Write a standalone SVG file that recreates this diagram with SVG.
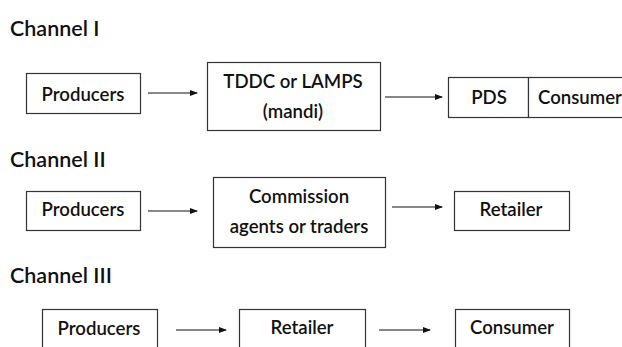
<svg xmlns="http://www.w3.org/2000/svg" width="622" height="347" viewBox="0 0 622 347">
<style>
.t{font-family:Lato,"Liberation Sans",sans-serif;font-size:21.5px;fill:#111;font-weight:600;}
.b{font-family:Lato,"Liberation Sans",sans-serif;font-size:18.6px;fill:#111;font-weight:600;text-anchor:middle;}
.box{fill:#fff;stroke:#333;stroke-width:1.2;}
.ar{stroke:#111;stroke-width:1.2;fill:none;marker-end:url(#ah);}
</style>
<defs>
<marker id="ah" markerWidth="8" markerHeight="6" refX="7" refY="3" orient="auto" markerUnits="userSpaceOnUse">
<path d="M0,0 L8,3 L0,6 Z" fill="#111"/>
</marker>
</defs>
<rect width="622" height="347" fill="#fff"/>
<text class="t" x="10" y="36">Channel I</text>
<text class="t" x="10" y="167">Channel II</text>
<text class="t" x="10" y="283">Channel III</text>

<g id="c1-producers"><rect class="box" x="26.5" y="73.5" width="114" height="40"/><text class="b" x="83" y="100.5">Producers</text></g>
<g id="c1-tddc"><rect class="box" x="207.5" y="62.5" width="173" height="68"/><text class="b" x="293" y="88">TDDC or LAMPS</text><text class="b" x="293" y="118">(mandi)</text></g>
<g id="c1-pds"><rect class="box" x="448.5" y="77.5" width="80" height="40"/><text class="b" x="489" y="104">PDS</text></g>
<g id="c1-consumer"><rect class="box" x="528.5" y="77.5" width="110" height="40"/><text class="b" x="538" y="104" style="text-anchor:start">Consumer</text></g>

<g id="c2-producers"><rect class="box" x="26.5" y="191.5" width="114" height="39"/><text class="b" x="83" y="216">Producers</text></g>
<g id="c2-commission"><rect class="box" x="213.5" y="177.5" width="172" height="70"/><text class="b" x="299" y="203">Commission</text><text class="b" x="299" y="233">agents or traders</text></g>
<g id="c2-retailer"><rect class="box" x="454.5" y="191.5" width="115" height="39"/><text class="b" x="511" y="216">Retailer</text></g>

<g id="c3-producers"><rect class="box" x="42.5" y="309.5" width="115" height="50"/><text class="b" x="99" y="335">Producers</text></g>
<g id="c3-retailer"><rect class="box" x="239.5" y="309.5" width="126" height="50"/><text class="b" x="302" y="334">Retailer</text></g>
<g id="c3-consumer"><rect class="box" x="455.5" y="309.5" width="114" height="50"/><text class="b" x="512" y="334">Consumer</text></g>

<g id="connectors">
<line class="ar" x1="148" y1="93" x2="197" y2="93"/>
<line class="ar" x1="385" y1="97" x2="442" y2="97"/>
<line class="ar" x1="148" y1="211" x2="197" y2="211"/>
<line class="ar" x1="392" y1="207" x2="442" y2="207"/>
<line class="ar" x1="176" y1="330" x2="226" y2="330"/>
<line class="ar" x1="379" y1="330" x2="430" y2="330"/>
</g>
</svg>
